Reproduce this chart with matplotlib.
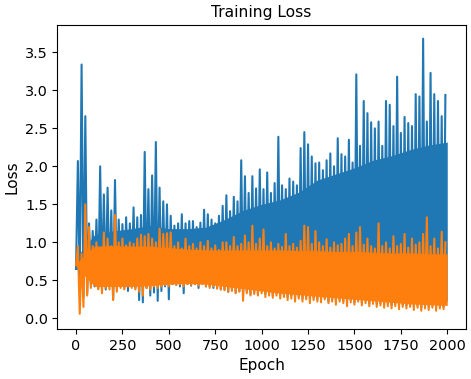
import numpy as np
import matplotlib
matplotlib.use('Agg')
from matplotlib import pyplot as plt

# Loss curves: for every 20-epoch window the
# highest and lowest value of each series (blue = first run, orange = second).
window = 20
blue_high = [2.07, 3.34, 2.66, 1.25, 1.15, 1.30, 2.00, 1.63, 1.72, 1.42,
             1.82, 1.30, 1.24, 1.33, 1.25, 1.46, 1.33, 1.36, 2.19, 1.70,
             1.88, 2.32, 1.72, 1.54, 1.50, 1.35, 1.22, 1.25, 1.37, 1.25,
             1.28, 1.28, 1.20, 1.26, 1.43, 1.37, 1.30, 1.25, 1.35, 1.48,
             1.62, 1.41, 1.60, 1.54, 2.08, 1.87, 1.65, 1.87, 1.71, 1.96,
             1.70, 1.92, 1.65, 1.78, 2.39, 1.75, 1.70, 1.84, 1.80, 1.75,
             2.24, 2.45, 2.29, 2.13, 2.04, 2.05, 1.95, 2.08, 2.17, 2.00,
             2.37, 2.16, 2.13, 2.35, 2.05, 3.21, 2.27, 2.86, 2.70, 2.58,
             2.50, 2.59, 2.27, 2.86, 2.81, 2.53, 3.18, 2.44, 2.65, 2.57,
             2.53, 2.95, 2.92, 3.68, 2.59, 3.23, 2.95, 2.86, 2.66, 2.94]
blue_low = [0.65, 0.40, 0.28, 0.33, 0.45, 0.42, 0.40, 0.45, 0.38, 0.42,
            0.25, 0.38, 0.42, 0.40, 0.36, 0.42, 0.40, 0.24, 0.21, 0.40,
            0.30, 0.34, 0.23, 0.36, 0.42, 0.25, 0.45, 0.44, 0.42, 0.33,
            0.45, 0.43, 0.45, 0.40, 0.46, 0.42, 0.42, 0.40, 0.40, 0.38,
            0.38, 0.35, 0.38, 0.34, 0.36, 0.30, 0.35, 0.32, 0.34, 0.32,
            0.36, 0.32, 0.33, 0.30, 0.33, 0.30, 0.31, 0.28, 0.30, 0.27,
            0.29, 0.26, 0.28, 0.25, 0.27, 0.25, 0.25, 0.27, 0.22, 0.25,
            0.22, 0.25, 0.23, 0.20, 0.24, 0.21, 0.24, 0.20, 0.23, 0.19,
            0.22, 0.19, 0.20, 0.18, 0.19, 0.17, 0.19, 0.16, 0.18, 0.17,
            0.18, 0.15, 0.17, 0.14, 0.16, 0.15, 0.17, 0.14, 0.16, 0.15]
orange_high = [0.95, 0.85, 1.50, 1.20, 0.95, 1.00, 0.90, 1.13, 1.05, 0.95,
               1.36, 1.00, 1.05, 0.96, 1.00, 0.98, 1.05, 1.10, 1.08, 1.11,
               1.05, 1.00, 1.18, 1.11, 1.12, 1.13, 0.95, 1.00, 0.92, 1.05,
               0.95, 0.98, 0.92, 1.00, 0.95, 1.02, 0.92, 0.96, 0.90, 1.00,
               1.00, 0.95, 1.07, 0.95, 0.98, 1.09, 1.00, 1.22, 0.98, 1.05,
               1.17, 0.95, 1.00, 0.92, 0.98, 0.94, 1.11, 0.95, 0.98, 0.93,
               1.02, 1.22, 1.20, 0.98, 1.15, 1.00, 0.95, 1.04, 0.93, 1.00,
               0.96, 0.98, 1.05, 1.11, 0.95, 1.13, 1.20, 0.97, 1.05, 0.95,
               0.92, 1.25, 0.95, 1.00, 0.92, 1.08, 0.95, 0.98, 1.11, 0.93,
               1.05, 0.97, 1.00, 1.11, 1.33, 0.95, 1.05, 0.92, 1.14, 1.00]
orange_low = [0.70, 0.06, 0.15, 0.30, 0.40, 0.44, 0.38, 0.33, 0.40, 0.38,
              0.24, 0.35, 0.40, 0.38, 0.42, 0.40, 0.38, 0.35, 0.30, 0.40,
              0.38, 0.42, 0.40, 0.42, 0.44, 0.42, 0.45, 0.44, 0.45, 0.42,
              0.45, 0.44, 0.45, 0.43, 0.45, 0.42, 0.40, 0.42, 0.39, 0.38,
              0.37, 0.35, 0.36, 0.33, 0.35, 0.23, 0.33, 0.30, 0.32, 0.30,
              0.33, 0.28, 0.30, 0.27, 0.30, 0.26, 0.28, 0.24, 0.26, 0.22,
              0.26, 0.22, 0.25, 0.20, 0.24, 0.22, 0.21, 0.25, 0.20, 0.22,
              0.18, 0.22, 0.20, 0.16, 0.21, 0.18, 0.22, 0.17, 0.20, 0.16,
              0.19, 0.15, 0.17, 0.14, 0.16, 0.13, 0.16, 0.12, 0.15, 0.13,
              0.15, 0.11, 0.14, 0.10, 0.13, 0.11, 0.14, 0.10, 0.13, 0.12]

# where each band is solid (every 100 epochs, 0..2000)
body_epochs = [0, 100, 200, 300, 400, 500, 600, 700, 800, 900, 1000,
               1100, 1200, 1300, 1400, 1500, 1600, 1700, 1800, 1900, 2000]
blue_body_top = [0.80, 1.10, 1.15, 1.18, 1.22, 1.18, 1.18, 1.20, 1.30, 1.42,
                 1.50, 1.56, 1.66, 1.82, 1.90, 1.98, 2.08, 2.14, 2.22, 2.28, 2.32]
blue_body_bottom = [0.65, 0.48, 0.45, 0.45, 0.45, 0.46, 0.47, 0.46, 0.44, 0.42,
                    0.40, 0.38, 0.36, 0.34, 0.32, 0.30, 0.28, 0.26, 0.25, 0.24, 0.23]
orange_body_top = [0.72, 0.95, 0.96, 0.95, 0.95, 0.93, 0.91, 0.90, 0.90, 0.90,
                   0.90, 0.90, 0.89, 0.89, 0.88, 0.88, 0.87, 0.86, 0.86, 0.85, 0.85]
orange_body_bottom = [0.68, 0.42, 0.42, 0.42, 0.43, 0.45, 0.46, 0.45, 0.42, 0.39,
                      0.36, 0.33, 0.31, 0.29, 0.27, 0.25, 0.23, 0.21, 0.19, 0.18, 0.17]


def zigzag(low, high):
    # low of each window at its start, high half a window later
    n = len(low)
    x = np.empty(2 * n)
    y = np.empty(2 * n)
    x[0::2] = np.arange(n) * window
    x[1::2] = np.arange(n) * window + window / 2
    y[0::2] = low
    y[1::2] = high
    return x, y


fig, ax = plt.subplots(figsize=(4.71, 3.79), dpi=100)
fig.subplots_adjust(left=0.122, right=0.989, top=0.934, bottom=0.132)

# explicit zorder so the orange run sits entirely over the blue one
ax.fill_between(body_epochs, blue_body_bottom, blue_body_top, color='#1f77b4',
                linewidth=0, zorder=2.0)
x, y = zigzag(blue_low, blue_high)
ax.plot(x, y, color='#1f77b4', linewidth=1.5, zorder=2.1)
ax.fill_between(body_epochs, orange_body_bottom, orange_body_top, color='#ff7f0e',
                linewidth=0, zorder=2.2)
x, y = zigzag(orange_low, orange_high)
ax.plot(x, y, color='#ff7f0e', linewidth=1.5, zorder=2.3)

ax.set_xlim(-100, 2100)
ax.set_ylim(-0.14, 3.86)
ax.set_title('Training Loss', fontsize=11.2)
ax.set_xlabel('Epoch', fontsize=11)
ax.set_ylabel('Loss', fontsize=11)
ax.tick_params(labelsize=10.4)

fig.savefig('out.png', dpi=100)
